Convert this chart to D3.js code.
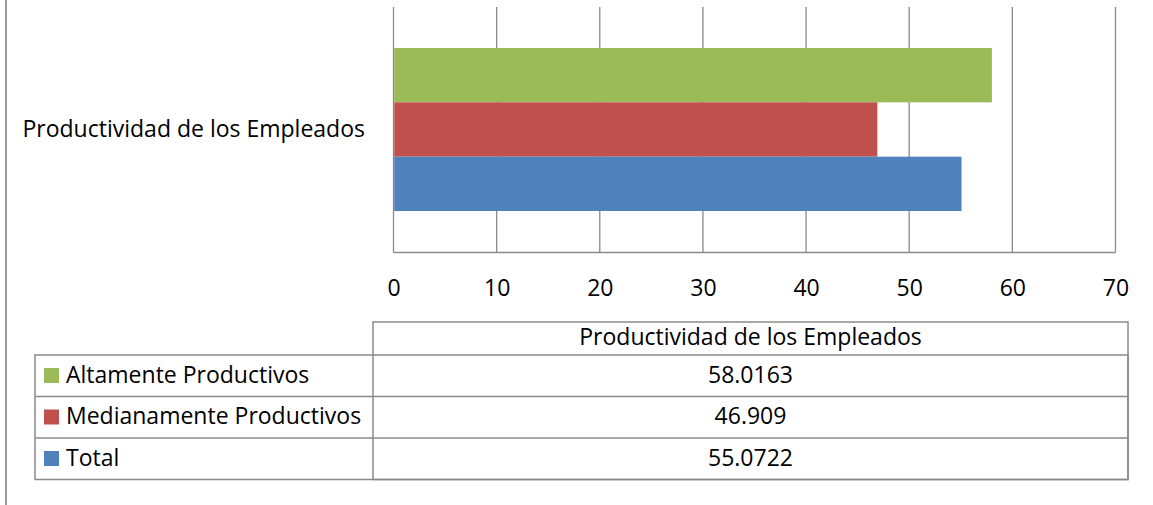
<!DOCTYPE html>
<html><head><meta charset="utf-8">
<script src="https://cdn.jsdelivr.net/npm/d3@7"></script>
<style>body{margin:0;background:#fff}svg{display:block}text{font-family:"Open Sans","Noto Sans",sans-serif;fill:#000}</style>
</head><body><svg id="c" width="1153" height="505"></svg>
<script>
const category = "Productividad de los Empleados";
const seriesNames = ["Altamente Productivos","Medianamente Productivos","Total"];
const seriesValues = [58.0163, 46.909, 55.0722];
const seriesLabels = ["58.0163","46.909","55.0722"];
const seriesColors = ["#9BBB59","#C0504D","#4F81BD"];
const tickValues = [0,10,20,30,40,50,60,70];

const svg = d3.select("#c");
const grid = "#8a8a8a";
const fs = 23;
const x = d3.scaleLinear().domain([0,70]).range([393.5,1115.5]);
const yCat = d3.scaleBand().domain([category]).range([7,252]);
const yS = d3.scaleBand().domain(seriesNames).range([48,211]);

// outer left border
svg.append("line").attr("x1",6).attr("x2",6).attr("y1",0).attr("y2",505).attr("stroke","#9a9a9a").attr("stroke-width",2);

// gridlines
svg.append("g").selectAll("line").data(tickValues).join("line")
  .attr("x1",d=>x(d)).attr("x2",d=>x(d)).attr("y1",7).attr("y2",252.5)
  .attr("stroke",grid).attr("stroke-width",1.3);
svg.append("line").attr("x1",x(0)).attr("x2",x(70)).attr("y1",252.5).attr("y2",252.5).attr("stroke",grid).attr("stroke-width",1.3);

// bars
svg.append("g").selectAll("rect").data(seriesNames).join("rect")
  .attr("x",x(0)+0.7).attr("y",d=>yS(d)).attr("height",yS.bandwidth())
  .attr("width",(d,i)=>x(seriesValues[i])-x(0)-0.7)
  .attr("fill",(d,i)=>seriesColors[i]);

// tick labels
const xAxis = d3.axisBottom(x).tickValues(tickValues).tickSize(0).tickPadding(0);
const ga = svg.append("g").attr("transform","translate(0,296)").call(xAxis);
ga.select(".domain").remove();
ga.selectAll("text").attr("font-size",fs).attr("dy",0).attr("font-family","'Open Sans','Noto Sans',sans-serif").attr("fill","#000");

// category label
svg.append("text").attr("x",365).attr("y",yCat(category)+yCat.bandwidth()/2+1).attr("text-anchor","end")
  .attr("dominant-baseline","middle").attr("font-size",fs).text(category);

// data table
const tl = 35, tm = 373, tr = 1128;
const rowTops = [355, 396.5, 438];
const rowB = 479.5;
const tg = svg.append("g").attr("stroke",grid).attr("stroke-width",1.5).attr("fill","none");
tg.append("rect").attr("x",tm).attr("y",322).attr("width",tr-tm).attr("height",rowB-322);
tg.append("rect").attr("x",tl).attr("y",355).attr("width",tr-tl).attr("height",rowB-355);
rowTops.slice(1).forEach(t=>tg.append("line").attr("x1",tl).attr("x2",tr).attr("y1",t).attr("y2",t));

const cx = (tm+tr)/2;
svg.append("text").attr("x",cx).attr("y",339).attr("text-anchor","middle").attr("dominant-baseline","middle").attr("font-size",fs).text(category);
seriesNames.forEach((n,i)=>{
  const top = rowTops[i];
  svg.append("rect").attr("x",44).attr("y",top+13).attr("width",15).attr("height",15).attr("fill",seriesColors[i]);
  svg.append("text").attr("x",66).attr("y",top+21.5).attr("dominant-baseline","middle").attr("font-size",fs).text(n);
  svg.append("text").attr("x",cx).attr("y",top+21.5).attr("text-anchor","middle").attr("dominant-baseline","middle").attr("font-size",fs).text(seriesLabels[i]);
});
</script></body></html>
